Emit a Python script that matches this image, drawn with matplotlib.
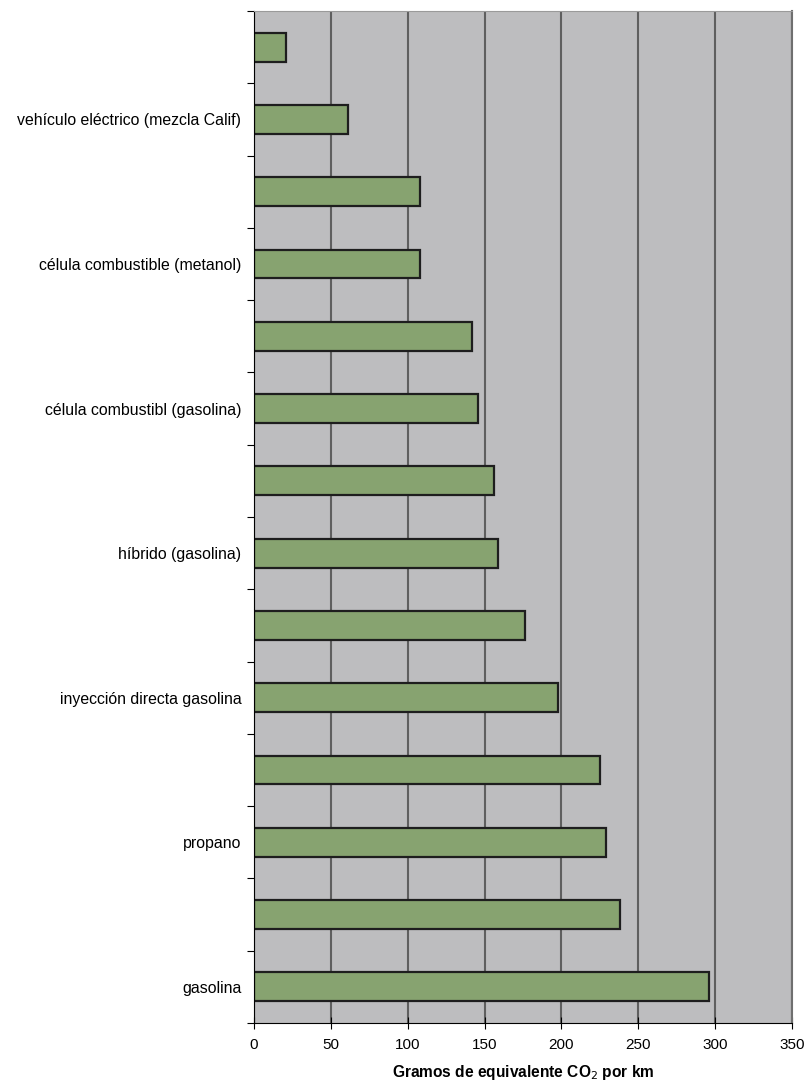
import numpy as np
import matplotlib.pyplot as plt
from matplotlib.ticker import FixedLocator

plt.rcParams['font.family'] = ['Liberation Sans', 'DejaVu Sans']

# categories top to bottom (only every other one is labeled in the original)
labels = ["", "vehículo eléctrico (mezcla Calif)", "", "célula combustible (metanol)",
          "", "célula combustibl (gasolina)", "", "híbrido (gasolina)",
          "", "inyección directa gasolina", "", "propano", "", "gasolina"]
values = [21, 61, 108, 108, 142, 146, 156, 159, 176, 198, 225, 229, 238, 296]
x_ticks = [0, 50, 100, 150, 200, 250, 300, 350]

fig = plt.figure(figsize=(8.07, 10.83), dpi=100)
ax = fig.add_axes([254 / 807, 1 - 1023 / 1083, (792 - 254) / 807, (1023 - 11) / 1083])

ax.set_facecolor("#bdbdbf")
ax.set_axisbelow(True)
ax.grid(axis="x", color="#5f5f5f", linewidth=1.5)

y = np.arange(len(values))
ax.barh(y, values, height=0.4, color="#87a370", edgecolor="#1e1e1e", linewidth=1.6)

ax.set_xlim(0, 350)
ax.set_ylim(len(values) - 0.5, -0.5)
ax.set_xticks(x_ticks)
ax.set_yticks(y)
ax.set_yticklabels(labels)
ax.yaxis.set_minor_locator(FixedLocator(np.arange(-0.5, len(values), 1)))

ax.tick_params(axis="y", which="major", length=0, pad=9, labelsize=11.4)
ax.tick_params(axis="y", which="minor", length=5, direction="out", width=0.8)
ax.tick_params(axis="x", length=8, direction="inout", width=0.8, pad=7, labelsize=11)

ax.spines["left"].set_color("black")
ax.spines["bottom"].set_color("black")
ax.spines["left"].set_linewidth(0.8)
ax.spines["bottom"].set_linewidth(0.8)
ax.spines["top"].set_color("#9a9a9a")
ax.spines["right"].set_color("#6f6f6f")
ax.spines["right"].set_linewidth(1.5)

ax.set_xlabel("Gramos de equivalente CO$_{2}$ por km", fontsize=11.2, fontweight="bold", labelpad=8)

fig.savefig("out.png", dpi=100)
